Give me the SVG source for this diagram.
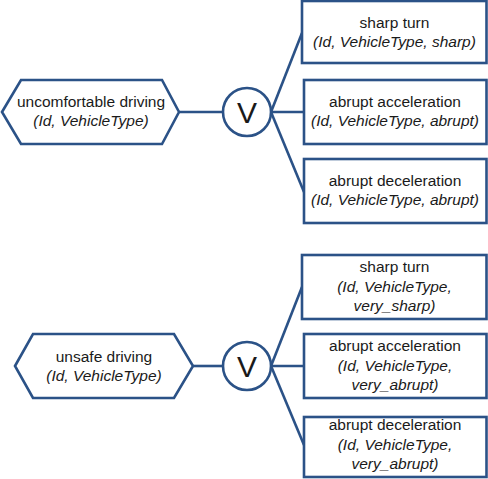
<svg xmlns="http://www.w3.org/2000/svg" width="488" height="479" viewBox="0 0 488 479">
<style>
.s{fill:#fff;stroke:#2B5287;stroke-width:2.6;stroke-linejoin:miter}
.c{fill:none;stroke:#2B5287;stroke-width:2.6}
text{font-family:"Liberation Sans",Arial,sans-serif;font-size:15.5px;fill:#1a1a1a;text-anchor:middle}
.i{font-style:italic}
.v{font-size:30px}
</style>
<rect width="488" height="479" fill="#fff"/>
<g id="connectors">
<line class="c" x1="179" y1="112" x2="223" y2="112"/>
<line class="c" x1="271" y1="112" x2="302" y2="33"/>
<line class="c" x1="271" y1="112" x2="304" y2="112"/>
<line class="c" x1="271" y1="112" x2="304" y2="192"/>
<line class="c" x1="193" y1="366" x2="223" y2="366"/>
<line class="c" x1="271" y1="366" x2="302" y2="287"/>
<line class="c" x1="271" y1="366" x2="304" y2="366"/>
<line class="c" x1="271" y1="366" x2="304" y2="445"/>
</g>
<g id="uncomfortable">
<polygon class="s" points="2,112 21,80 162,80 179,112 162,144 21,144"/>
<text x="91" y="107">uncomfortable driving</text>
<text class="i" x="91" y="126">(Id, VehicleType)</text>
</g>
<g id="or1">
<circle class="s" cx="247" cy="112" r="24"/>
<text class="v" x="247" y="122.5">V</text>
</g>
<g id="sharp1">
<rect class="s" x="302" y="1" width="184.5" height="62"/>
<text x="394.5" y="28">sharp turn</text>
<text class="i" x="394.5" y="47">(Id, VehicleType, sharp)</text>
</g>
<g id="accel1">
<rect class="s" x="304" y="80" width="182.5" height="64"/>
<text x="395" y="107">abrupt acceleration</text>
<text class="i" x="395" y="126">(Id, VehicleType, abrupt)</text>
</g>
<g id="decel1">
<rect class="s" x="304" y="159" width="182.5" height="64"/>
<text x="395" y="186">abrupt deceleration</text>
<text class="i" x="395" y="205">(Id, VehicleType, abrupt)</text>
</g>
<g id="unsafe">
<polygon class="s" points="15,366 33,334 174,334 193,366 174,398 33,398"/>
<text x="104" y="361.5">unsafe driving</text>
<text class="i" x="104" y="380.5">(Id, VehicleType)</text>
</g>
<g id="or2">
<circle class="s" cx="247" cy="366" r="24"/>
<text class="v" x="247" y="376.5">V</text>
</g>
<g id="sharp2">
<rect class="s" x="302" y="255" width="184.5" height="64"/>
<text x="394.5" y="272">sharp turn</text>
<text class="i" x="394.5" y="291.5">(Id, VehicleType,</text>
<text class="i" x="394.5" y="311">very_sharp)</text>
</g>
<g id="accel2">
<rect class="s" x="304" y="334" width="182.5" height="64"/>
<text x="395" y="351">abrupt acceleration</text>
<text class="i" x="395" y="370.5">(Id, VehicleType,</text>
<text class="i" x="395" y="390">very_abrupt)</text>
</g>
<g id="decel2">
<rect class="s" x="304" y="417" width="182.5" height="60"/>
<text x="395" y="430">abrupt deceleration</text>
<text class="i" x="395" y="449.5">(Id, VehicleType,</text>
<text class="i" x="395" y="469">very_abrupt)</text>
</g>
</svg>
